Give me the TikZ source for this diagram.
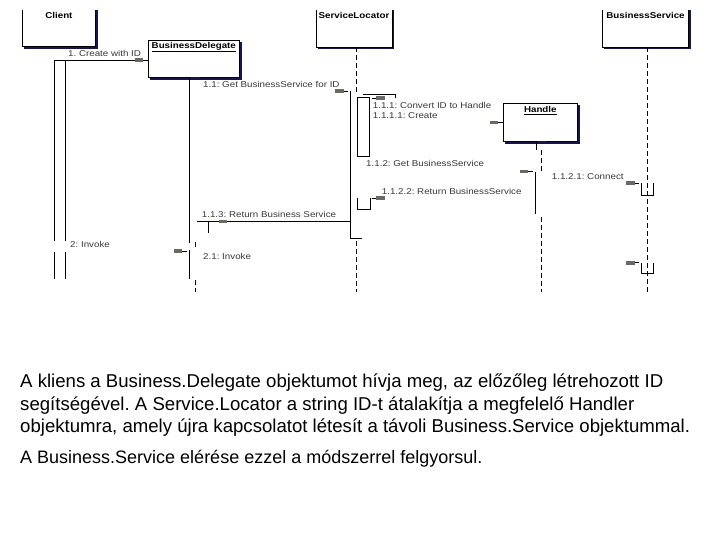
\documentclass[tikz,border=0pt]{standalone}
\usepackage{fontspec}
\setmainfont{Liberation Sans}
\newfontfamily\lblfont[FakeStretch=1.15]{Liberation Sans}
\definecolor{shadownavy}{HTML}{16164A}
\definecolor{tipgray}{HTML}{6A6A62}
\frenchspacing
\tikzset{
  box/.style={draw=none, inner sep=0pt, anchor=north west},
  edge/.style={draw=black, line width=0.8pt},
  shadowline/.style={draw=shadownavy, line width=2.2pt},
  lbl/.style={font=\lblfont\fontsize{8.5}{9}\selectfont, text=black!78, inner sep=0pt, anchor=base west},
  olbl/.style={font=\lblfont\fontsize{8.5}{9}\selectfont\bfseries, text=black, inner sep=0pt, anchor=base},
  life/.style={line width=0.8pt, dash pattern=on 5pt off 3pt},
  act/.style={line width=0.9pt},
  msg/.style={line width=0.8pt},
  body/.style={font=\fontsize{18.6}{22}\selectfont, inner sep=0pt, anchor=base west},
  tipR/.pic={\fill[tipgray] (-13,-1.8) rectangle (-4.5,1.8); \draw[msg] (-4.5,0)--(0,0);},
  tipL/.pic={\fill[tipgray] (13,-1.8) rectangle (4.5,1.8); \draw[msg] (4.5,0)--(0,0);},
}
\begin{document}
\begin{tikzpicture}[x=1pt,y=-1pt]
\fill[white] (0,0) rectangle (720,540);
\useasboundingbox (0,0) rectangle (720,540);

% ---------- object boxes ----------
\node[box, minimum width=72.3pt, minimum height=36pt] (client) at (22.7,10) {};
\node[box, minimum width=91pt, minimum height=36.6pt] (bd) at (148.3,40.7) {};
\node[box, minimum width=75.7pt, minimum height=36.7pt] (sl) at (316,10) {};
\node[box, minimum width=74pt, minimum height=37.7pt] (handle) at (503.3,103.3) {};
\node[box, minimum width=85.6pt, minimum height=36.7pt] (bs) at (602.7,10) {};

% open-top boxes
\foreach \b in {client,sl,bs}{
  \draw[shadowline] ([xshift=1.5pt,yshift=-1.2pt]\b.south west) -- ([xshift=1.2pt,yshift=-1.2pt]\b.south east) -- ([xshift=1.2pt]\b.north east);
  \draw[edge] (\b.north west) -- (\b.south west) -- (\b.south east) -- (\b.north east);
}
% closed boxes
\foreach \b in {bd,handle}{
  \draw[shadowline] ([xshift=1.5pt,yshift=-1.2pt]\b.south west) -- ([xshift=1.2pt,yshift=-1.2pt]\b.south east) -- ([xshift=1.2pt,yshift=-1.5pt]\b.north east);
  \draw[edge] (\b.north west) rectangle (\b.south east);
}

\node[olbl] (clientlbl) at (58.9,19) {Client};
\node[olbl] (bdlbl) at (193.8,48.5) {\underline{BusinessDelegate}};
\node[olbl] (sllbl) at (354,18.5) {ServiceLocator};
\node[olbl] (handlelbl) at (540.3,113) {\underline{Handle}};
\node[olbl] (bslbl) at (645.5,18.5) {BusinessService};

% ---------- lifelines and activations ----------
% Client activation
\coordinate (ca1) at (54.3,60.3); \coordinate (ca2) at (65.3,60.3);
\draw[act] (ca1) -- (54.3,241); \draw[act] (54.3,252) -- (54.3,279);
\draw[act] (ca2) -- (65.3,241); \draw[act] (65.3,252) -- (65.3,279);

% BusinessDelegate
\draw[shadownavy, line width=2pt] (189.3,78.3) -- (200,78.3);
\draw[act] (189.3,77.3) -- (189.3,243); \draw[act] (189.3,250) -- (189.3,279);
\draw[life] (195.3,242) -- (195.3,250);
\draw[life] (195.3,280) -- (195.3,292);

% ServiceLocator
\draw[life] (356.7,47) -- (356.7,92);
\draw[act] (350.7,91) -- (350.7,238.3) -- (361.7,238.3);
\draw[life] (356.7,241) -- (356.7,292);
% self activation 1.1.1
\draw[edge] (357.3,97.3) rectangle (369.3,156);

% Handle
\draw[shadownavy, line width=2pt] (536,142) -- (546.7,142);
\draw[act] (536,141) -- (536,150);
\draw[life] (541.7,150) -- (541.7,171);
\draw[act] (535,171.7) -- (535,214);
\draw[life] (541.2,217) -- (541.2,292);

% BusinessService
\draw[life] (647.7,47) -- (647.7,292);
\draw[act] (641,183.3) -- (641,195) -- (653.3,195) -- (653.3,183.3);
\draw[act] (641,263.3) -- (641,273.3) -- (653.3,273.3) -- (653.3,263.3);

% ---------- messages ----------
% 1. Create with ID
\coordinate (m1e) at (147.7,60.3);
\draw[msg] (ca1) -- (m1e);
\pic at (m1e) {tipR};
\node[lbl] (m1l) at (68,57) {1. Create with ID};

% 1.1 Get BusinessService for ID
\coordinate (m11e) at (348,91);
\pic at (m11e) {tipR};
\node[lbl] (m11l) at (203,88) {1.1: Get BusinessService for ID};

% 1.1.1 Convert ID to Handle (self call)
\coordinate (m111s) at (363,94.3);
\coordinate (m111e) at (371.7,98.3);
\draw[msg] (m111s) -- (395,94.3) -- (395,98.3);
\pic at (m111e) {tipL};
\node[lbl] (m111l) at (372.7,108.3) {1.1.1: Convert ID to Handle};

% 1.1.1.1 Create
\coordinate (m1111e) at (502.7,122.7);
\pic at (m1111e) {tipR};
\node[lbl] (m1111l) at (372.7,118.3) {1.1.1.1: Create};

% 1.1.2 Get BusinessService
\coordinate (m112e) at (532.7,171.7);
\pic at (m112e) {tipR};
\node[lbl] (m112l) at (366,166.7) {1.1.2: Get BusinessService};

% 1.1.2.1 Connect
\coordinate (m1121e) at (639.3,183.3);
\pic at (m1121e) {tipR};
\node[lbl] (m1121l) at (551.7,179.3) {1.1.2.1: Connect};

% 1.1.2.2 Return BusinessService (self call)
\draw[act] (357.3,198) -- (357.3,209) -- (370,209) -- (370,198);
\coordinate (m1122e) at (371.7,198.3);
\pic at (m1122e) {tipL};
\node[lbl] (m1122l) at (381.7,194.7) {1.1.2.2: Return BusinessService};

% 1.1.3 Return Business Service
\coordinate (m113s) at (350.7,221.7);
\coordinate (m113e) at (214,221.7);
\draw[msg] (m113s) -- (196.7,221.7);
\pic at (m113e) {tipL};
\draw[msg] (208.7,221.7) -- (208.7,232.7);
\node[lbl] (m113l) at (201.7,217.3) {1.1.3: Return Business Service};

% 2 Invoke
\coordinate (m2e) at (186.7,251);
\pic at (m2e) {tipR};
\node[lbl] (m2l) at (70,247.3) {2: Invoke};

% 2.1 Invoke
\coordinate (m21e) at (639.3,262.7);
\pic at (m21e) {tipR};
\node[lbl] (m21l) at (203,259) {2.1: Invoke};

% ---------- body text ----------
\node[body] (t1) at (20,387.5) {A kliens a Business.Delegate objektumot hívja meg, az előzőleg létrehozott ID};
\node[body] (t2) at (20,410) {segítségével. A Service.Locator a string ID-t átalakítja a megfelelő Handler};
\node[body] (t3) at (20,432.5) {objektumra, amely újra kapcsolatot létesít a távoli Business.Service objektummal.};
\node[body, font=\fontsize{18}{22}\selectfont] (t4) at (20,463.5) {A Business.Service elérése ezzel a módszerrel felgyorsul.};
\end{tikzpicture}
\end{document}
